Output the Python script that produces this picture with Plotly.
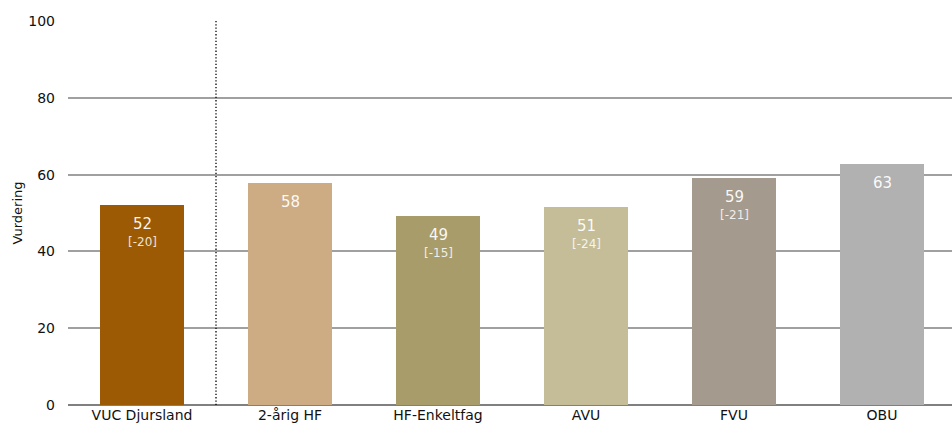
import plotly.graph_objects as go

categories = ["VUC Djursland", "2-årig HF", "HF-Enkeltfag", "AVU", "FVU", "OBU"]
values = [52.1, 57.8, 49.2, 51.6, 59.1, 62.8]
value_labels = ["52", "58", "49", "51", "59", "63"]
diff_labels = ["[-20]", "", "[-15]", "[-24]", "[-21]", ""]
colors = ["#9C5A04", "#CDAC84", "#A89C6B", "#C4BD98", "#A49A8D", "#B1B1B1"]
y_ticks = [0, 20, 40, 60, 80, 100]

FONT = "Tahoma, Verdana, DejaVu Sans, sans-serif"

fig = go.Figure()
fig.add_trace(go.Bar(
    x=list(range(len(categories))), y=values,
    marker=dict(color=colors, line=dict(width=0)),
    width=0.568, hoverinfo="skip",
))

for i, (v, lab, d) in enumerate(zip(values, value_labels, diff_labels)):
    fig.add_annotation(x=i, y=v, text=lab, showarrow=False, yanchor="top",
                       yshift=-8, font=dict(family=FONT, size=15, color="rgba(255,255,255,0.95)"))
    if d:
        fig.add_annotation(x=i, y=v, text=d, showarrow=False, yanchor="top",
                           yshift=-28, font=dict(family=FONT, size=12, color="rgba(255,255,255,0.85)"))

fig.add_shape(type="line", x0=0.5, x1=0.5, y0=0, y1=100.8, xref="x", yref="y",
              line=dict(color="#000000", width=1.3, dash="1.3px,2px"), layer="above")

fig.update_layout(
    width=952, height=429,
    margin=dict(l=68, r=0, t=21, b=24, autoexpand=False),
    plot_bgcolor="white", paper_bgcolor="white",
    showlegend=False,
    font=dict(family=FONT, size=13, color="#111111"),
    bargap=0,
)
fig.update_xaxes(
    range=[-0.5, 5.473], tickmode="array", tickvals=list(range(len(categories))),
    ticktext=categories, showgrid=False, zeroline=False, showline=False,
    ticks="", automargin=False, tickfont=dict(family=FONT, size=14, color="#111111"),
)
fig.update_yaxes(
    range=[0, 100], tickvals=y_ticks, showgrid=True, gridcolor="#A0A0A0", gridwidth=1.5,
    zeroline=True, zerolinecolor="#808080", zerolinewidth=1.5, showline=False,
    ticks="", ticklabelstandoff=12, automargin=False,
    tickfont=dict(family=FONT, size=14, color="#111111"),
    title=dict(text="Vurdering", font=dict(family=FONT, size=13, color="#111111"), standoff=2),
)

fig.write_html("out.html", config={"displayModeBar": False},
               post_script="document.body.style.margin='0px';document.body.style.overflow='hidden';")
